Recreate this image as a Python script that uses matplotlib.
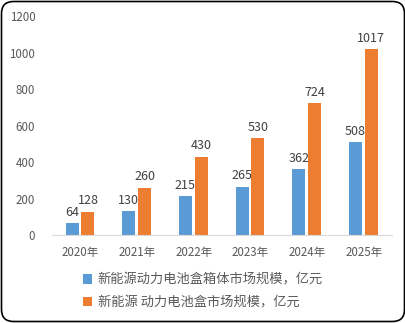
import matplotlib.pyplot as plt
from matplotlib.patches import FancyBboxPatch
import numpy as np

plt.rcParams['font.family'] = ['Noto Sans CJK SC', 'DejaVu Sans']

years = ['2020年', '2021年', '2022年', '2023年', '2024年', '2025年']
box_market = [64, 130, 215, 265, 362, 508]
pack_market = [128, 260, 430, 530, 724, 1017]
names = ['新能源动力电池盒箱体市场规模，亿元', '新能源 动力电池盒市场规模，亿元']

blue = '#5B9BD5'
orange = '#ED7D31'

fig = plt.figure(figsize=(4.06, 3.23), dpi=100)
ax = fig.add_axes([0.128, 0.2724, 0.8375, 0.678])

x = np.arange(len(years))
w = 0.23
b1 = ax.bar(x - 0.145, box_market, w, color=blue, label=names[0])
b2 = ax.bar(x + 0.135, pack_market, w, color=orange, label=names[1])

for bars in (b1, b2):
    for r in bars:
        ax.annotate(str(int(r.get_height())), (r.get_x() + r.get_width() / 2, r.get_height()),
                    xytext=(0, 3), textcoords='offset points', ha='center', va='bottom',
                    fontsize=9, color='#404040')

ax.set_xlim(-0.5, len(years) - 0.5)
ax.set_ylim(0, 1200)
ax.set_yticks(range(0, 1201, 200))
ax.set_xticks(x)
ax.set_xticklabels(years)
ax.tick_params(axis='both', length=0, labelsize=8.3, colors='#595959')
ax.tick_params(axis='y', pad=12)
ax.tick_params(axis='x', pad=8)
for s in ['top', 'right', 'left']:
    ax.spines[s].set_visible(False)
ax.spines['bottom'].set_color('#D9D9D9')

fig.legend(loc='center', bbox_to_anchor=(0.5, 1 - 291.5 / 323), ncol=1, frameon=False,
           fontsize=9.5, handlelength=0.7, handleheight=0.7, handletextpad=0.4,
           labelspacing=0.75, labelcolor='#595959')

border = FancyBboxPatch((1.5, 1.5), 403, 320, boxstyle='round,pad=0,rounding_size=12',
                        transform=None, fill=False, edgecolor='black', linewidth=1.2)
fig.patches.append(border)

fig.savefig('out.png', dpi=100)
